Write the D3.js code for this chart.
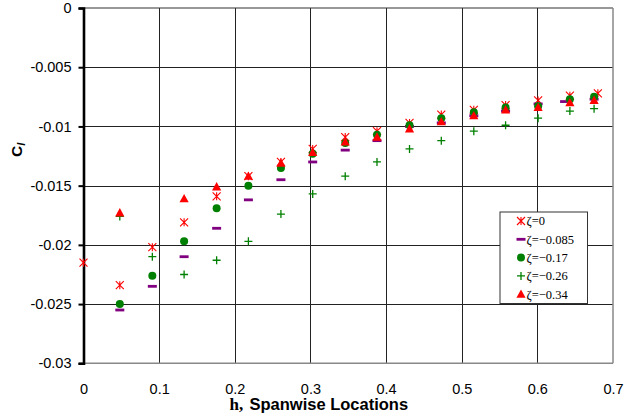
<!DOCTYPE html>
<html>
<head>
<meta charset="utf-8">
<script src="https://cdn.jsdelivr.net/npm/d3@7"></script>
<style>
  html, body { margin: 0; padding: 0; background: #fff; }
  svg { display: block; }
  .tick-label { font-family: "Liberation Sans", Arial, sans-serif; font-size: 14.5px; fill: #000; }
</style>
</head>
<body>
<svg id="chart" width="636" height="418"></svg>
<script>
// Spanwise stations (eta) and sectional coefficient Cl for each zeta setting
const etaZeta0   = [0, 0.048, 0.091, 0.133, 0.176, 0.218, 0.261, 0.303, 0.346, 0.388, 0.431, 0.473, 0.516, 0.558, 0.601, 0.643, 0.680];
const clZeta0    = [-0.0215, -0.0234, -0.0202, -0.0181, -0.0159, -0.0142, -0.0130, -0.0119, -0.0109, -0.0104, -0.0097, -0.0090, -0.0086, -0.0082, -0.0078, -0.0074, -0.0072];

const etaZeta085 = [0.048, 0.091, 0.133, 0.176, 0.218, 0.261, 0.303, 0.346, 0.388, 0.431, 0.473, 0.516, 0.558, 0.601, 0.636, 0.675];
const clZeta085  = [-0.0255, -0.0235, -0.0210, -0.0186, -0.0162, -0.0145, -0.0130, -0.0120, -0.0112, -0.0100, -0.0097, -0.0091, -0.0087, -0.0081, -0.0079, -0.0077];

const etaZeta17  = [0.048, 0.091, 0.133, 0.176, 0.218, 0.261, 0.303, 0.346, 0.388, 0.431, 0.473, 0.516, 0.558, 0.601, 0.643, 0.675];
const clZeta17   = [-0.0250, -0.0226, -0.0197, -0.0169, -0.0150, -0.0135, -0.0123, -0.0114, -0.0107, -0.0099, -0.0093, -0.0088, -0.0084, -0.0083, -0.0077, -0.0075];

const etaZeta26  = [0.048, 0.091, 0.133, 0.176, 0.218, 0.261, 0.303, 0.346, 0.388, 0.431, 0.473, 0.516, 0.558, 0.601, 0.643, 0.675];
const clZeta26   = [-0.0176, -0.0210, -0.0225, -0.0213, -0.0197, -0.0174, -0.0157, -0.0142, -0.0130, -0.0119, -0.0112, -0.0104, -0.0099, -0.0093, -0.0087, -0.0085];

const etaZeta34  = [0.048, 0.133, 0.176, 0.218, 0.261, 0.303, 0.346, 0.388, 0.431, 0.473, 0.516, 0.558, 0.601, 0.643, 0.675];
const clZeta34   = [-0.0173, -0.0161, -0.0151, -0.0142, -0.0131, -0.0122, -0.0113, -0.0109, -0.0102, -0.0096, -0.0091, -0.0086, -0.0084, -0.0080, -0.0078];

const seriesNames = ["\u03B6=0", "\u03B6=\u22120.085", "\u03B6=\u22120.17", "\u03B6=\u22120.26", "\u03B6=\u22120.34"];
const xTicks = [0, 0.1, 0.2, 0.3, 0.4, 0.5, 0.6, 0.7];
const xTickLabels = ["0", "0.1", "0.2", "0.3", "0.4", "0.5", "0.6", "0.7"];
const yTicks = [0, -0.005, -0.01, -0.015, -0.02, -0.025, -0.03];
const yTickLabels = ["0", "-0.005", "-0.01", "-0.015", "-0.02", "-0.025", "-0.03"];

const series = [
  { name: seriesNames[0], eta: etaZeta0,   cl: clZeta0,   marker: "star",     color: "#FF0000" },
  { name: seriesNames[1], eta: etaZeta085, cl: clZeta085, marker: "dash",     color: "#800080" },
  { name: seriesNames[2], eta: etaZeta17,  cl: clZeta17,  marker: "circle",   color: "#008000" },
  { name: seriesNames[3], eta: etaZeta26,  cl: clZeta26,  marker: "plus",     color: "#008000" },
  { name: seriesNames[4], eta: etaZeta34,  cl: clZeta34,  marker: "triangle", color: "#FF0000" }
];

const svg = d3.select("#chart");
const plot = { left: 83.5, right: 613, top: 8, bottom: 363.3 };

const x = d3.scaleLinear().domain([0, 0.7]).range([plot.left, plot.right]);
const y = d3.scaleLinear().domain([-0.03, 0]).range([plot.bottom, plot.top]);

// plot area background
svg.append("rect")
  .attr("x", plot.left).attr("y", plot.top)
  .attr("width", plot.right - plot.left).attr("height", plot.bottom - plot.top)
  .attr("fill", "#fff");

// gridlines
const grid = svg.append("g");
grid.selectAll("line.h").data(yTicks.filter(d => d !== 0 && d !== -0.03)).join("line")
  .attr("x1", plot.left).attr("x2", plot.right)
  .attr("y1", d => Math.round(y(d)) + 0.5).attr("y2", d => Math.round(y(d)) + 0.5)
  .attr("stroke", "#222").attr("stroke-width", 1);
grid.selectAll("line.v").data(xTicks.filter(d => d !== 0 && d !== 0.7)).join("line")
  .attr("y1", plot.top).attr("y2", plot.bottom)
  .attr("x1", d => Math.round(x(d)) + 0.5).attr("x2", d => Math.round(x(d)) + 0.5)
  .attr("stroke", "#222").attr("stroke-width", 1);

// frame: top dark, right and bottom grey
svg.append("line").attr("x1", plot.left).attr("x2", plot.right)
  .attr("y1", plot.top).attr("y2", plot.top).attr("stroke", "#333").attr("stroke-width", 1.2);
svg.append("line").attr("x1", plot.right).attr("x2", plot.right)
  .attr("y1", plot.top).attr("y2", plot.bottom).attr("stroke", "#888").attr("stroke-width", 1.5);
svg.append("line").attr("x1", plot.left).attr("x2", plot.right)
  .attr("y1", plot.bottom).attr("y2", plot.bottom).attr("stroke", "#888").attr("stroke-width", 1.5);

// y axis (left, thick) with outward ticks
const yAxis = d3.axisLeft(y).tickValues(yTicks).tickFormat((d, i) => yTickLabels[i]).tickSize(5).tickPadding(7);
const yg = svg.append("g").attr("transform", `translate(${plot.left},0)`).call(yAxis);
yg.select(".domain").attr("stroke", "#000").attr("stroke-width", 2.6);
yg.selectAll(".tick line").attr("stroke", "#000").attr("stroke-width", 2);
yg.selectAll(".tick text").attr("class", "tick-label").attr("font-family", null).attr("font-size", null);

// x axis labels only (no tick marks)
const xAxis = d3.axisBottom(x).tickValues(xTicks).tickFormat((d, i) => xTickLabels[i]).tickSize(0).tickPadding(20);
const xg = svg.append("g").attr("transform", `translate(0,${plot.bottom})`).call(xAxis);
xg.select(".domain").remove();
xg.selectAll(".tick text").attr("class", "tick-label").attr("font-family", null).attr("font-size", null);

// marker symbols
function drawMarker(g, type, color) {
  if (type === "star") {
    const s = 4;
    g.append("path")
      .attr("d", `M${-s},${-s}L${s},${s}M${-s},${s}L${s},${-s}M0,${-s}L0,${s}`)
      .attr("stroke", color).attr("stroke-width", 1.1).attr("fill", "none");
  } else if (type === "dash") {
    g.append("rect").attr("x", -4.5).attr("y", -1.4).attr("width", 9).attr("height", 2.8).attr("fill", color);
  } else if (type === "circle") {
    g.append("circle").attr("r", 4).attr("fill", color);
  } else if (type === "plus") {
    const s = 4;
    g.append("path").attr("d", `M${-s},0L${s},0M0,${-s}L0,${s}`)
      .attr("stroke", color).attr("stroke-width", 1.3).attr("fill", "none");
  } else if (type === "triangle") {
    g.append("path").attr("d", "M0,-4.8L4.6,3.6L-4.6,3.6Z").attr("fill", color);
  }
}

// data points
series.forEach(s => {
  const pts = s.eta.map((e, i) => ({ e, c: s.cl[i] }));
  svg.append("g").selectAll("g").data(pts).join("g")
    .attr("transform", d => `translate(${x(d.e)},${y(d.c)})`)
    .each(function () { drawMarker(d3.select(this), s.marker, s.color); });
});

// legend
const legend = svg.append("g");
legend.append("rect")
  .attr("x", 500).attr("y", 212).attr("width", 87.5).attr("height", 91.5)
  .attr("fill", "#fff").attr("stroke", "#333").attr("stroke-width", 1);
series.forEach((s, i) => {
  const row = legend.append("g").attr("transform", `translate(0,${221 + i * 18.3})`);
  drawMarker(row.append("g").attr("transform", "translate(521,0)"), s.marker, s.color);
  row.append("text").attr("x", 526.5).attr("y", 4.3)
    .attr("font-family", "'Liberation Serif', 'Times New Roman', serif")
    .attr("font-size", 12.5).attr("fill", "#000").text(s.name);
});

// axis titles
const xt = svg.append("text").attr("y", 410).attr("fill", "#000").attr("font-weight", "bold");
xt.append("tspan").attr("x", 229.5)
  .attr("font-family", "'Liberation Serif', 'Times New Roman', serif").attr("font-size", 17).text("h,");
xt.append("tspan").attr("x", 249.5)
  .attr("font-family", "'Liberation Sans', Arial, sans-serif").attr("font-size", 16.5).text("Spanwise Locations");

const yt = svg.append("text")
  .attr("transform", "translate(22,157) rotate(-90)")
  .attr("font-family", "'Liberation Sans', Arial, sans-serif").attr("font-weight", "bold").attr("fill", "#000");
yt.append("tspan").attr("font-size", 15.5).text("C");
yt.append("tspan").attr("font-size", 11).attr("font-style", "italic").attr("dy", 3).text("l");
</script>
</body>
</html>
